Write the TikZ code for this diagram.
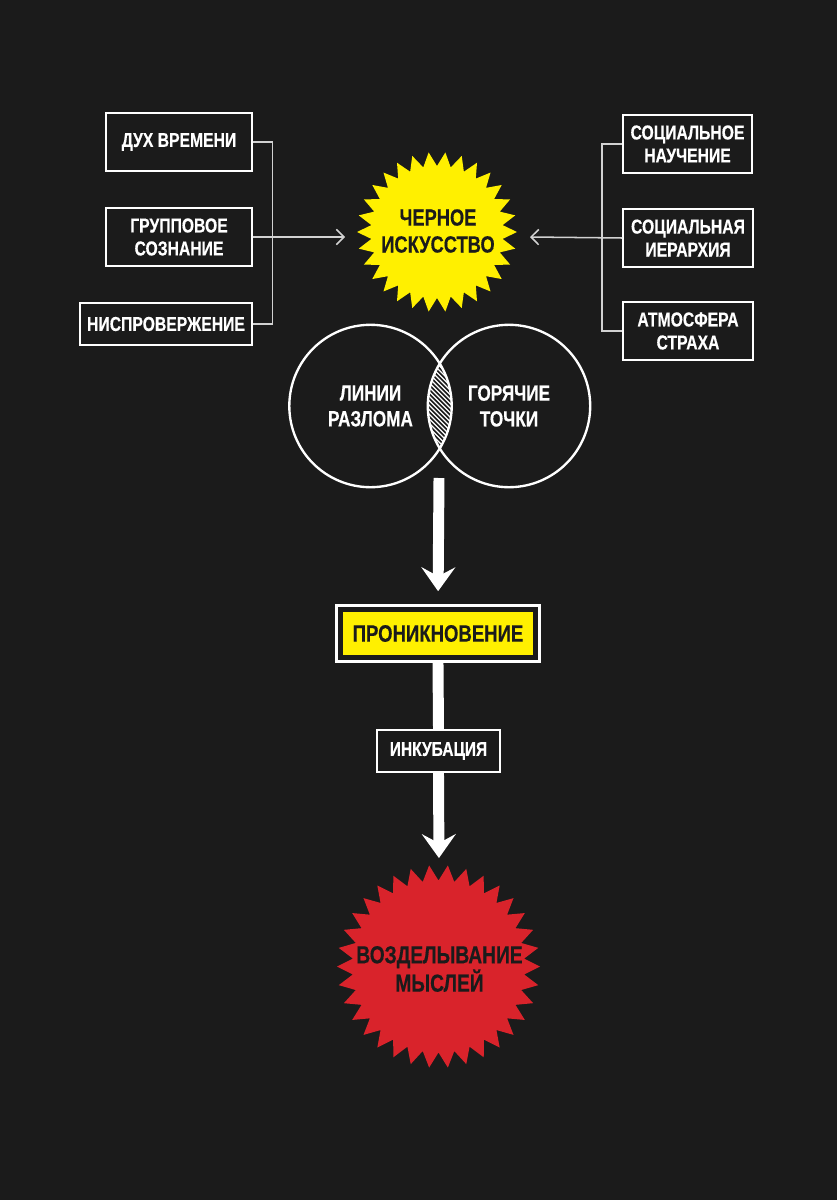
\documentclass[tikz,border=0pt]{standalone}
\usepackage{fontspec}
\setmainfont{Liberation Sans}[FakeStretch=0.78, BoldFeatures={FakeBold=0.4}]
\usepackage{xcolor}
\usepackage{tikz}
\usetikzlibrary{arrows.meta,fit}

\definecolor{bg}{HTML}{1B1B1B}
\definecolor{sunyellow}{HTML}{FFF000}
\definecolor{alarmred}{HTML}{D9232B}
\definecolor{wire}{HTML}{D2D2D2}
\newcommand\pix{0.8504pt}

\tikzset{
  factor/.style={draw=white, line width=1.7pt, fill=bg, text=white, align=center,
    inner sep=0pt, font=\bfseries\fontsize{17.2}{19.6}\selectfont},
  venn/.style={circle, draw=white, line width=2pt, minimum size=163*\pix, inner sep=0pt,
    text=white, align=center, font=\bfseries\fontsize{18.8}{22}\selectfont},
  startext/.style={text=bg, align=center, inner sep=0pt, font=\bfseries\fontsize{20}{23}\selectfont},
  feed/.style={draw=wire, line width=1.3pt},
  pipe/.style={draw=white, line width=11*\pix},
  bigarrow/.style={pipe, -{Stealth[length=20.4pt, width=28.9pt, inset=7.7pt]}}
}

\begin{document}
\begin{tikzpicture}[x=0.03cm, y=-0.03cm]
\useasboundingbox (0,0) rectangle (837,1200);
\fill[bg] (0,0) rectangle (837,1200);

% stars
\fill[sunyellow] plot[samples at={0,...,59}, variable=\i]
  ({437+(isodd(\i)?66:80)*cos(\i*6)}, {232+(isodd(\i)?66:80)*sin(\i*6)}) -- cycle;
\fill[alarmred] plot[samples at={0,...,67}, variable=\i]
  ({438.5+(isodd(\i)?86:101.5)*cos(\i/68*360)}, {966.5+(isodd(\i)?86:101.5)*sin(\i/68*360)}) -- cycle;
\node[startext] (blackart) at (438,231) {ЧЕРНОЕ\\ИСКУССТВО};
\node[startext, font=\bfseries\fontsize{21}{23}\selectfont] (thoughts) at (439.5,969) {ВОЗДЕЛЫВАНИЕ\\МЫСЛЕЙ};

% left factors
\node[factor, minimum width=146*\pix, minimum height=58*\pix] (zeit) at (179,142) {ДУХ ВРЕМЕНИ};
\node[factor, minimum width=146*\pix, minimum height=58*\pix] (grupp) at (179,237) {ГРУППОВОЕ\\СОЗНАНИЕ};
\node[factor, minimum width=172*\pix, minimum height=42*\pix] (nisp) at (166,324) {НИСПРОВЕРЖЕНИЕ};
% right factors
\node[factor, minimum width=129*\pix, minimum height=58*\pix] (nauch) at (687.5,144) {СОЦИАЛЬНОЕ\\НАУЧЕНИЕ};
\node[factor, minimum width=130*\pix, minimum height=58*\pix] (ierar) at (688,238) {СОЦИАЛЬНАЯ\\ИЕРАРХИЯ};
\node[factor, minimum width=130*\pix, minimum height=58*\pix] (strakh) at (688,331) {АТМОСФЕРА\\СТРАХА};

\coordinate (artL) at (345,237);
\coordinate (artR) at (530,237);
\draw[feed] (zeit.east) -- ++(20,0) |- (nisp.east);
\draw[feed, -{Straight Barb[length=6.5pt, width=13pt]}] (grupp.east) -- (artL);
\draw[feed] (nauch.west) -- ++(-20,0) |- (strakh.west);
\draw[feed, -{Straight Barb[length=6.5pt, width=13pt]}] (ierar.west) -- (artR);

% venn
\begin{scope}
  \clip (369.5,406) circle (81.5);
  \clip (509.5,406) circle (81.5);
  \foreach \k in {290,294.5,...,425}
    \draw[white, line width=1.1pt] (\k,320) -- ++(130,130);
\end{scope}
\node[venn] (fault) at (370.5,406) {ЛИНИИ\\РАЗЛОМА};
\node[venn] (hot) at (509,406) {ГОРЯЧИЕ\\ТОЧКИ};

% penetration
\node[fill=sunyellow, text=bg, inner sep=0pt, minimum width=190*\pix, minimum height=43*\pix,
  font=\bfseries\fontsize{20.3}{23}\selectfont] (pen) at (438,633.5) {ПРОНИКНОВЕНИЕ};
\node[draw=white, line width=2.2pt, fit=(pen), inner sep=6.5*\pix] (penframe) {};
\node[factor, minimum width=123*\pix, minimum height=42*\pix,
  font=\bfseries\fontsize{17}{19}\selectfont] (incub) at (438.5,751) {ИНКУБАЦИЯ};

\coordinate (vennbot) at (439,478);
\coordinate (redtop) at (439,866);
\draw[bigarrow, shorten >=11pt] (vennbot) -- (penframe.north);
\draw[pipe] (penframe.south) -- (incub.north);
\draw[bigarrow, shorten >=6.8pt] (incub.south) -- (redtop);
\end{tikzpicture}
\end{document}
